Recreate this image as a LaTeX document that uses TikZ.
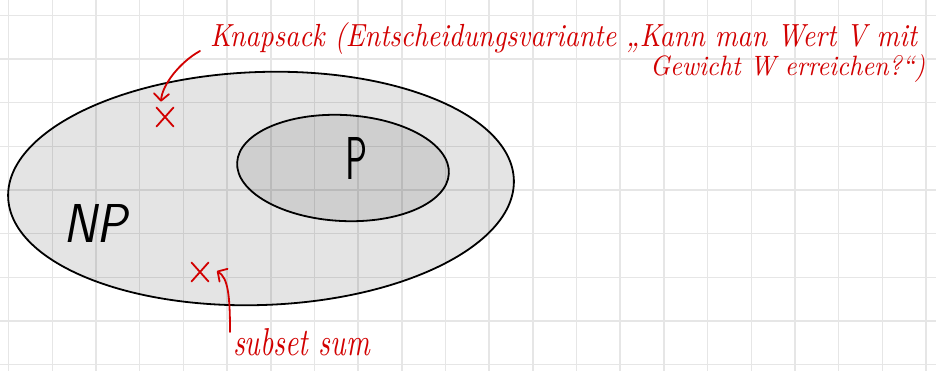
\documentclass[tikz,border=0pt]{standalone}
\usepackage{fontspec}
\usepackage{graphicx}
\usetikzlibrary{arrows.meta,shapes.misc}
\definecolor{ink}{RGB}{210,0,0}
\definecolor{gridc}{RGB}{230,230,230}
\tikzset{
  gridline/.style={draw=gridc, line width=1.5pt},
  region/.style={draw=black, line width=1.8pt, fill=black},
  lbl/.style={inner sep=0pt, outer sep=0pt, anchor=base west},
  redlbl/.style={lbl, text=ink},
  crossm/.style={cross out, draw=ink, line width=1.8pt, minimum width=15pt, minimum height=17pt, inner sep=0pt, line cap=round},
  redarrow/.style={draw=ink, line width=1.8pt, line cap=round, -{Straight Barb[length=7pt,width=15pt,round]}}
}
\begin{document}
\begin{tikzpicture}[x=1pt,y=-1pt]
\useasboundingbox (0,0) rectangle (936,371);
\fill[white] (0,0) rectangle (936,371);
% grid
\foreach \i in {0,...,21} \draw[gridline] ({8.7+43.68*\i},0) -- ({8.7+43.68*\i},371);
\foreach \j in {0,...,8} \draw[gridline] (0,{15.3+43.68*\j}) -- (936,{15.3+43.68*\j});
% sets
\draw[region, fill opacity=0.105] (261,188.5) ellipse [x radius=253, y radius=116.5, rotate=2];
\draw[region, fill opacity=0.09] (343,168) ellipse [x radius=106, y radius=53, rotate=-3];
% labels
\node[lbl] (NPl) at (63,243) {\resizebox{64pt}{38pt}{\sffamily\itshape NP}};
\node[lbl] (Pl) at (345,180) {\resizebox{22pt}{42pt}{\sffamily P}};
\node[redlbl] (knap) at (210,47) {\resizebox{707pt}{24pt}{\itshape Knapsack (Entscheidungsvariante „Kann man Wert V mit}};
\node[redlbl] (knapb) at (650,76) {\resizebox{275pt}{21pt}{\itshape Gewicht W erreichen?“)}};
\node[redlbl] (sub) at (233,355) {\resizebox{137pt}{27pt}{\itshape subset sum}};
% marks
\node[crossm] (x1) at (165,117) {};
\node[crossm] (x2) at (200,272) {};
% arrows
\draw[redarrow] ([shift={(-10pt,-4pt)}]knap.base west) .. controls (180,62) and (162,85) .. ([shift={(-4pt,6pt)}]x1.north);
\draw[redarrow] ([shift={(-3pt,-4pt)}]sub.north west) .. controls (230,295) and (228,278) .. ([shift={(8.5pt,1pt)}]x2.east);
\end{tikzpicture}
\end{document}
